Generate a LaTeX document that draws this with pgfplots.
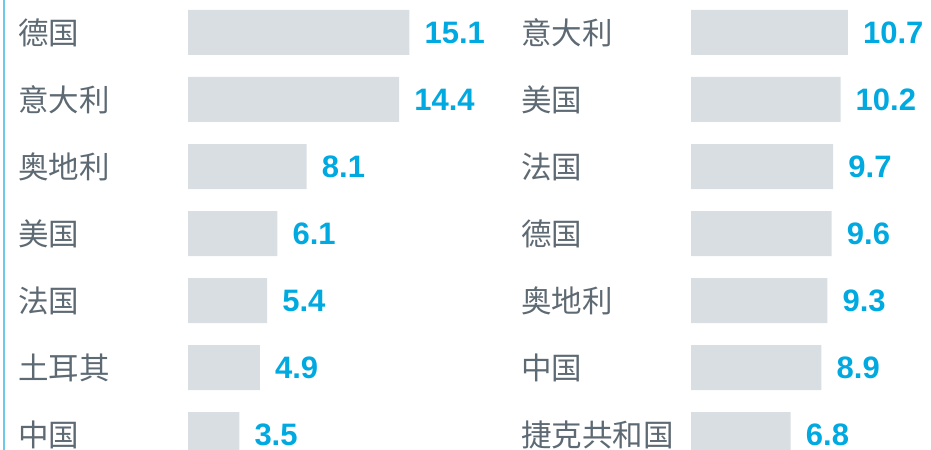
\documentclass[border=0pt]{standalone}
\usepackage{fontspec}
\usepackage{pgfplots}
\pgfplotsset{compat=1.18}
\newfontfamily\cjk{Noto Sans CJK SC}
\newfontfamily\valfont{Liberation Sans}
\definecolor{barc}{HTML}{D9DEE2}
\definecolor{valc}{HTML}{00A9E0}
\definecolor{labc}{HTML}{5E6A73}
\definecolor{linec}{HTML}{6CC8EC}
\pgfplotsset{
  panel/.style={
    xbar, bar width=45bp, bar shift=0pt,
    scale only axis, width=293.2bp, height=450bp,
    xmin=0, xmax=20,
    y dir=reverse, ymin=-0.48507, ymax=6.23134,
    anchor=south west,
    axis line style={draw=none},
    xtick=\empty,
    ytick={0,...,6},
    ytick style={draw=none},
    yticklabel style={anchor=west, inner sep=0pt, xshift=-165.5bp,
      font=\cjk\fontsize{30.5bp}{30.5bp}\selectfont, text=labc},
    clip=false,
    point meta=x,
    nodes near coords,
    /pgf/number format/assume math mode=true,
    /pgf/number format/.cd, fixed, fixed zerofill, precision=1,
    /pgfplots/.cd,
    nodes near coords style={anchor=west, inner sep=0pt, xshift=15bp,
      font=\valfont\bfseries\fontsize{31bp}{31bp}\selectfont, text=valc},
  }
}
\begin{document}
\begin{tikzpicture}
\path[use as bounding box] (0,0) rectangle (931bp,450bp);
\fill[linec] (2.8bp,0bp) rectangle (5.2bp,450bp);
\begin{axis}[panel, at={(188bp,0bp)},
  yticklabels={德国,意大利,奥地利,美国,法国,土耳其,中国}]
\addplot[draw=none, fill=barc] coordinates {
  (15.1,0) (14.4,1) (8.1,2) (6.1,3) (5.4,4) (4.9,5) (3.5,6)};
\end{axis}
\begin{axis}[panel, at={(691bp,0bp)},
  yticklabels={意大利,美国,法国,德国,奥地利,中国,捷克共和国}]
\addplot[draw=none, fill=barc] coordinates {
  (10.7,0) (10.2,1) (9.7,2) (9.6,3) (9.3,4) (8.9,5) (6.8,6)};
\end{axis}
\end{tikzpicture}
\end{document}
